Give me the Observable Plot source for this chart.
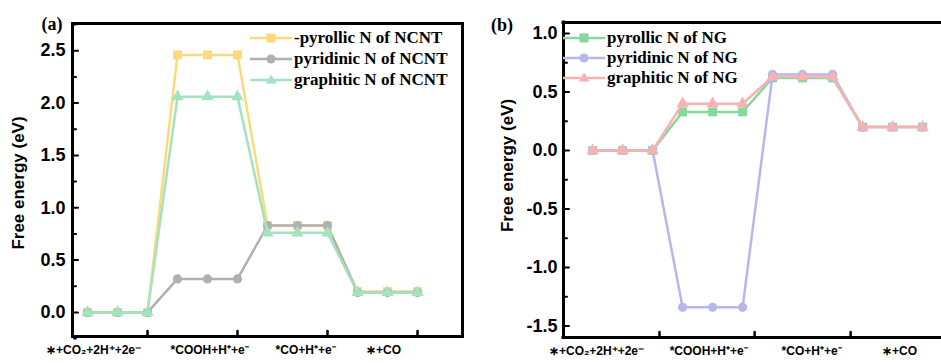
<!DOCTYPE html>
<html><head><meta charset="utf-8">
<script src="https://cdn.jsdelivr.net/npm/d3@7"></script>
<script src="https://cdn.jsdelivr.net/npm/@observablehq/plot@0.6"></script>
<style>
body{margin:0;background:#fff;}
#wrap{position:relative;width:941px;height:363px;display:flex;overflow:hidden;}
.panel{position:relative;flex:none;}
.legend{position:absolute;font-family:"Liberation Serif","Times New Roman",serif;font-weight:bold;font-size:17px;color:#000;}
.row{display:flex;align-items:center;height:21px;white-space:nowrap;}
.row svg{margin-right:2px;}
</style></head><body><div id="wrap"></div>
<script>
// ---- data ----
const steps = [0, 1, 2, 3, 4, 5, 6, 7, 8, 9, 10, 11];
const stepLabels = ["∗+CO₂+2H⁺+2e⁻", "*COOH+H⁺+e⁻", "*CO+H⁺+e⁻", "∗+CO"];

// panel (a) NCNT
const aPyrollic  = [0, 0, 0, 2.46, 2.46, 2.46, 0.83, 0.83, 0.83, 0.20, 0.20, 0.20];
const aPyridinic = [0, 0, 0, 0.32, 0.32, 0.32, 0.83, 0.83, 0.83, 0.19, 0.19, 0.19];
const aGraphitic = [0, 0, 0, 2.06, 2.06, 2.06, 0.76, 0.76, 0.76, 0.19, 0.19, 0.19];
const aNames = ["-pyrollic N of NCNT", "pyridinic N of NCNT", "graphitic N of NCNT"];
const aYTicks = [0.0, 0.5, 1.0, 1.5, 2.0, 2.5];
const aYMinor = [-0.25, 0.25, 0.75, 1.25, 1.75, 2.25, 2.75];
const aXTicks = [2, 5, 8, 11];
const aLabelPos = [0.2, 4.07, 7.27, 9.87];

// panel (b) NG
const bPyrollic  = [0, 0, 0, 0.33, 0.33, 0.33, 0.62, 0.62, 0.62, 0.20, 0.20, 0.20];
const bPyridinic = [0, 0, 0, -1.34, -1.34, -1.34, 0.65, 0.65, 0.65, 0.20, 0.20, 0.20];
const bGraphitic = [0, 0, 0, 0.40, 0.40, 0.40, 0.63, 0.63, 0.63, 0.20, 0.20, 0.20];
const bNames = ["pyrollic N of NG", "pyridinic N of NG", "graphitic N of NG"];
const bYTicks = [-1.5, -1.0, -0.5, 0.0, 0.5, 1.0];
const bYMinor = [-1.25, -0.75, -0.25, 0.25, 0.75];
const bXTicks = [2.23, 5.4, 8.6];
const bLabelPos = [0.13, 3.87, 7.3, 10.23];

const symbols = ["square", "circle", "triangle"];
const aColors = ["#fdd97c", "#b0b0b0", "#a3e3bf"];
const bColors = ["#84d99e", "#b7b7ec", "#f7b2b2"];

// ---- drawing ----
const tickShape = {draw(ctx, l) { ctx.moveTo(0, 0); ctx.lineTo(0, -l); }};
const sans = "Liberation Sans, Arial, sans-serif";
const serif = "Liberation Serif, Times New Roman, serif";

function makePanel(cfg) {
  const series = cfg.values.map((vals, k) => ({
    name: cfg.names[k], color: cfg.colors[k], symbol: symbols[k],
    rows: steps.map((s, i) => ({step: s, value: vals[i]}))
  }));
  const marks = [];
  for (const s of series) {
    marks.push(Plot.line(s.rows, {x: "step", y: "value", stroke: s.color, strokeWidth: 2.5}));
    marks.push(Plot.dot(s.rows, {x: "step", y: "value", fill: s.color, symbol: s.symbol, r: s.symbol === "square" ? 5 : 4.6}));
  }
  // frame
  if (cfg.fullFrame) {
    marks.push(Plot.frame({stroke: "black", strokeWidth: 3}));
  } else {
    marks.push(Plot.ruleX([cfg.xDomain[0]], {stroke: "black", strokeWidth: 3, strokeLinecap: "square"}));
    marks.push(Plot.ruleY([cfg.yDomain[0], cfg.yDomain[1]], {stroke: "black", strokeWidth: 3, strokeLinecap: "square"}));
  }
  // ticks (inward)
  marks.push(Plot.vector(cfg.yTicks, {y: d => d, frameAnchor: "left", rotate: 90, length: 4, anchor: "start", shape: tickShape, stroke: "black", strokeWidth: 2, dx: 1.5}));
  marks.push(Plot.vector(cfg.yMinor, {y: d => d, frameAnchor: "left", rotate: 90, length: 2, anchor: "start", shape: tickShape, stroke: "black", strokeWidth: 2, dx: 1.5}));
  marks.push(Plot.vector(cfg.xTicks, {x: d => d, frameAnchor: "bottom", rotate: 0, length: 4, anchor: "start", shape: tickShape, stroke: "black", strokeWidth: 2.5, dy: -1.5}));
  // y tick labels
  marks.push(Plot.text(cfg.yTicks, {y: d => d, frameAnchor: "left", text: d => d.toFixed(1), textAnchor: "end", dx: -cfg.labelGap, fontSize: 18, fontWeight: "bold", fontFamily: sans, fill: "black"}));
  // x category labels
  marks.push(Plot.text(stepLabels, {x: (d, i) => cfg.labelPos[i], frameAnchor: "bottom", dy: 17, fontSize: 12, fontWeight: "bold", fontFamily: sans, fill: "black"}));
  // y axis title
  marks.push(Plot.text(["Free energy (eV)"], {frameAnchor: "left", textAnchor: "middle", lineAnchor: "middle", rotate: -90, dx: cfg.titleDx, dy: cfg.titleDy, fontSize: 17, fontWeight: "bold", fontFamily: sans, fill: "black"}));
  // panel label
  marks.push(Plot.text([cfg.panel], {frameAnchor: "top-left", textAnchor: "middle", lineAnchor: "middle", dx: cfg.panelDx, dy: cfg.panelDy, fontSize: 18, fontWeight: "bold", fontFamily: serif, fill: "black"}));

  const plot = Plot.plot({
    width: cfg.width, height: 363,
    marginLeft: cfg.ml, marginRight: cfg.mr, marginTop: cfg.mt, marginBottom: cfg.mb,
    x: {domain: cfg.xDomain, axis: null},
    y: {domain: cfg.yDomain, axis: null},
    style: {overflow: "visible", background: "transparent"},
    marks
  });
  const div = document.createElement("div");
  div.className = "panel";
  div.style.width = cfg.width + "px";
  div.style.height = "363px";
  div.appendChild(plot);
  // legend
  const leg = document.createElement("div");
  leg.className = "legend";
  leg.style.left = cfg.legLeft + "px";
  leg.style.top = cfg.legTop + "px";
  for (const s of series) {
    const row = document.createElement("div");
    row.className = "row";
    row.style.height = cfg.legRow + "px";
    let m;
    if (s.symbol === "square") m = `<rect x="16.5" y="2.5" width="9" height="9" fill="${s.color}"/>`;
    else if (s.symbol === "circle") m = `<circle cx="21" cy="7" r="4.6" fill="${s.color}"/>`;
    else m = `<path d="M21,1.5 L26.5,10.5 L15.5,10.5 Z" fill="${s.color}"/>`;
    row.innerHTML = `<svg width="42" height="14"><line x1="0" x2="42" y1="7" y2="7" stroke="${s.color}" stroke-width="2.5"/>${m}</svg><span>${s.name}</span>`;
    leg.appendChild(row);
  }
  div.appendChild(leg);
  return div;
}

const wrap = document.getElementById("wrap");
wrap.appendChild(makePanel({
  panel: "(a)", width: 470, ml: 72, mr: 8, mt: 23, mb: 27,
  xDomain: [-0.5, 12.5], yDomain: [-0.23, 2.76], fullFrame: true,
  yTicks: aYTicks, yMinor: aYMinor, xTicks: aXTicks, labelPos: aLabelPos,
  values: [aPyrollic, aPyridinic, aGraphitic], names: aNames, colors: aColors,
  labelGap: 7, titleDx: -54, titleDy: 3, panelDx: -20.5, panelDy: 1,
  legLeft: 250, legTop: 27.5, legRow: 21
}));
wrap.appendChild(makePanel({
  panel: "(b)", width: 471, ml: 93, mr: 0, mt: 22, mb: 26,
  xDomain: [-0.97, 11.63], yDomain: [-1.598, 1.094], fullFrame: false,
  yTicks: bYTicks, yMinor: bYMinor, xTicks: bXTicks, labelPos: bLabelPos,
  values: [bPyrollic, bPyridinic, bGraphitic], names: bNames, colors: bColors,
  labelGap: 6, titleDx: -56, titleDy: -14.5, panelDx: -61.5, panelDy: 3,
  legLeft: 93, legTop: 28, legRow: 20
}));
</script></body></html>
